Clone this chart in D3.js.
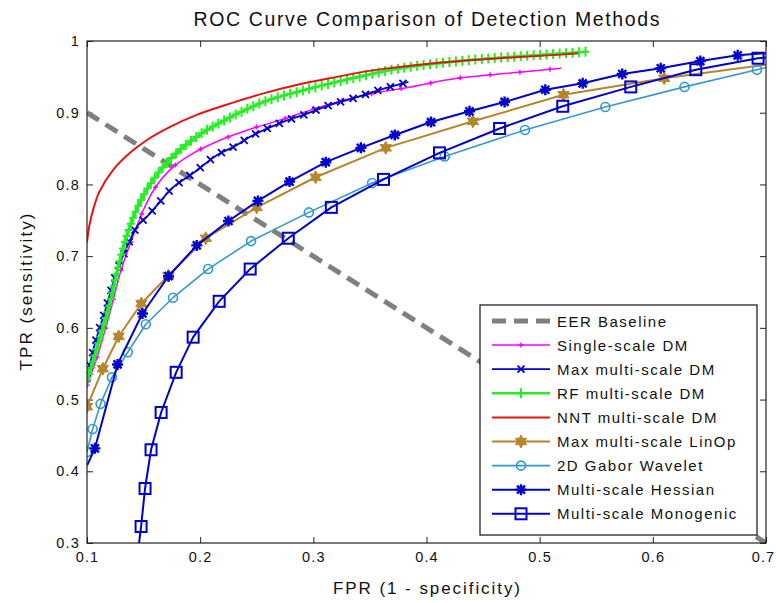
<!DOCTYPE html>
<html>
<head>
<meta charset="utf-8">
<script src="https://cdn.jsdelivr.net/npm/d3@7"></script>
<style>
  body { margin: 0; background: #fff; }
  text { font-family: Arial, "Liberation Sans", sans-serif; fill: #111; }
</style>
</head>
<body>
<svg id="chart" width="776" height="603"></svg>
<script>
// ---- data ----
const xTicks = [0.1, 0.2, 0.3, 0.4, 0.5, 0.6, 0.7];
const yTicks = [0.3, 0.4, 0.5, 0.6, 0.7, 0.8, 0.9, 1];

const seriesNames = ['EER Baseline', 'Single-scale DM', 'Max multi-scale DM', 'RF multi-scale DM',
  'NNT multi-scale DM', 'Max multi-scale LinOp', '2D Gabor Wavelet', 'Multi-scale Hessian', 'Multi-scale Monogenic'];

const eerX = [0.1, 0.7];
const eerY = [0.9, 0.3];

const singleX = [0.1, 0.11, 0.12, 0.13, 0.14, 0.15, 0.16, 0.173, 0.191, 0.218, 0.242, 0.271, 0.300, 0.321, 0.35, 0.386, 0.427, 0.472, 0.519];
const singleY = [0.52, 0.565, 0.62, 0.68, 0.725, 0.765, 0.795, 0.82, 0.841, 0.862, 0.876, 0.890, 0.905, 0.915, 0.926, 0.936, 0.948, 0.955, 0.962];

const maxDmX = [0.1, 0.107, 0.116, 0.126, 0.135, 0.145, 0.153, 0.163, 0.176, 0.194, 0.215, 0.229, 0.247, 0.273, 0.295, 0.315, 0.335, 0.359, 0.384];
const maxDmY = [0.53, 0.578, 0.624, 0.677, 0.712, 0.743, 0.755, 0.773, 0.796, 0.816, 0.841, 0.852, 0.869, 0.887, 0.899, 0.911, 0.920, 0.932, 0.943];

const rfX = [0.1, 0.109, 0.119, 0.129, 0.138, 0.15, 0.165, 0.182, 0.203, 0.227, 0.256, 0.286, 0.321, 0.377, 0.436, 0.495, 0.542];
const rfY = [0.527, 0.573, 0.628, 0.694, 0.742, 0.785, 0.820, 0.848, 0.873, 0.894, 0.915, 0.929, 0.943, 0.962, 0.973, 0.980, 0.985];

const nntX = [0.1, 0.102, 0.106, 0.111, 0.123, 0.138, 0.153, 0.173, 0.197, 0.227, 0.256, 0.286, 0.321, 0.348, 0.406, 0.465, 0.519, 0.534];
const nntY = [0.719, 0.742, 0.768, 0.790, 0.820, 0.844, 0.862, 0.880, 0.897, 0.913, 0.927, 0.939, 0.950, 0.958, 0.969, 0.976, 0.981, 0.983];

const linopX = [0.1, 0.114, 0.128, 0.148, 0.172, 0.205, 0.250, 0.302, 0.364, 0.441, 0.521, 0.610, 0.7];
const linopY = [0.49, 0.543, 0.588, 0.634, 0.673, 0.725, 0.768, 0.810, 0.851, 0.888, 0.925, 0.948, 0.967];

const gaborX = [0.1, 0.105, 0.112, 0.122, 0.136, 0.152, 0.176, 0.207, 0.245, 0.296, 0.352, 0.416, 0.487, 0.558, 0.628, 0.692, 0.7];
const gaborY = [0.427, 0.459, 0.494, 0.531, 0.566, 0.605, 0.642, 0.682, 0.721, 0.761, 0.802, 0.839, 0.876, 0.908, 0.936, 0.960, 0.963];

const hessX = [0.1, 0.107, 0.127, 0.149, 0.172, 0.197, 0.225, 0.251, 0.279, 0.311, 0.342, 0.372, 0.404, 0.438, 0.469, 0.505, 0.538, 0.573, 0.607, 0.642, 0.675, 0.7];
const hessY = [0.408, 0.432, 0.549, 0.620, 0.672, 0.715, 0.749, 0.777, 0.804, 0.831, 0.851, 0.869, 0.887, 0.902, 0.915, 0.932, 0.941, 0.954, 0.962, 0.972, 0.980, 0.983];

const monoX = [0.146, 0.1478, 0.1513, 0.1566, 0.1655, 0.1788, 0.1938, 0.2168, 0.2442, 0.2779, 0.3159, 0.362, 0.4115, 0.4646, 0.5204, 0.5805, 0.638, 0.693, 0.7];
const monoY = [0.3, 0.323, 0.376, 0.430, 0.482, 0.538, 0.587, 0.637, 0.682, 0.725, 0.768, 0.807, 0.844, 0.878, 0.909, 0.936, 0.960, 0.976, 0.977];

const zip = (xs, ys) => xs.map((v, i) => [v, ys[i]]);

// style per series; 'step' = marker spacing along path (dense curves)
const series = [
  { name: seriesNames[1], pts: zip(singleX, singleY), color: '#ff00ff', width: 1.5, marker: 'dot', step: 30, smooth: true },
  { name: seriesNames[2], pts: zip(maxDmX, maxDmY), color: '#0000cc', width: 1.8, marker: 'x', step: 13, smooth: true },
  { name: seriesNames[3], pts: zip(rfX, rfY), color: '#22ee22', width: 2.5, marker: 'plus', step: 6.5, smooth: true },
  { name: seriesNames[4], pts: zip(nntX, nntY), color: '#e81212', width: 2, marker: null, smooth: true },
  { name: seriesNames[5], pts: zip(linopX, linopY), color: '#b5862a', width: 2, marker: 'hexagram', skip: [12] },
  { name: seriesNames[6], pts: zip(gaborX, gaborY), color: '#3399cc', width: 1.6, marker: 'circle', skip: [16] },
  { name: seriesNames[7], pts: zip(hessX, hessY), color: '#0000cc', width: 2, marker: 'asterisk', skip: [0, 21] },
  { name: seriesNames[8], pts: zip(monoX, monoY), color: '#0000cc', width: 2, marker: 'square', skip: [0, 18] }
];

const svg = d3.select('#chart');
const pLeft = 87, pRight = 766, pTop = 41, pBottom = 543;
const x = d3.scaleLinear().domain([0.1, 0.7]).range([pLeft, pRight]);
const y = d3.scaleLinear().domain([0.3, 1]).range([pBottom, pTop]);

svg.append('defs').append('clipPath').attr('id', 'plotclip')
  .append('rect').attr('x', pLeft).attr('y', pTop).attr('width', pRight - pLeft).attr('height', pBottom - pTop);

// title and axis labels
svg.append('text').attr('x', (pLeft + pRight) / 2).attr('y', 26).attr('text-anchor', 'middle')
  .attr('font-size', 19.5).attr('textLength', 466).attr('lengthAdjust', 'spacing')
  .text('ROC Curve Comparison of Detection Methods');
svg.append('text').attr('x', (pLeft + pRight) / 2).attr('y', 594).attr('text-anchor', 'middle')
  .attr('font-size', 17).attr('textLength', 187).attr('lengthAdjust', 'spacing')
  .text('FPR (1 - specificity)');
svg.append('text').attr('transform', `translate(32,${(pTop + pBottom) / 2}) rotate(-90)`).attr('text-anchor', 'middle')
  .attr('font-size', 17).attr('textLength', 157).attr('lengthAdjust', 'spacing')
  .text('TPR (sensitivity)');

// axes, ticks inward
const fmt = d3.format('~g');
const axisStyle = sel => {
  sel.select('.domain').remove();
  sel.selectAll('line').attr('stroke', '#222');
  sel.selectAll('text').attr('font-size', 14.5).attr('font-family', 'Arial, "Liberation Sans", sans-serif')
    .attr('letter-spacing', 1.2).attr('fill', '#111');
};
const xAxisG = svg.append('g').attr('transform', `translate(0,${pBottom})`)
  .call(d3.axisBottom(x).tickValues(xTicks).tickFormat(fmt).tickSizeInner(-6).tickSizeOuter(0).tickPadding(9)).call(axisStyle);
// keep the last label inside the window
xAxisG.selectAll('text').filter(d => d === xTicks[xTicks.length - 1]).attr('dx', -3);
svg.append('g').attr('transform', `translate(0,${pTop})`)
  .call(d3.axisTop(x).tickValues(xTicks).tickFormat('').tickSizeInner(-6).tickSizeOuter(0)).call(axisStyle);
svg.append('g').attr('transform', `translate(${pLeft},0)`)
  .call(d3.axisLeft(y).tickValues(yTicks).tickFormat(fmt).tickSizeInner(-6).tickSizeOuter(0).tickPadding(7)).call(axisStyle);
svg.append('g').attr('transform', `translate(${pRight},0)`)
  .call(d3.axisRight(y).tickValues(yTicks).tickFormat('').tickSizeInner(-6).tickSizeOuter(0)).call(axisStyle);

const plot = svg.append('g').attr('clip-path', 'url(#plotclip)');

// EER baseline
plot.append('path').datum(zip(eerX, eerY))
  .attr('d', d3.line().x(d => x(d[0])).y(d => y(d[1])))
  .attr('fill', 'none').attr('stroke', '#808080').attr('stroke-width', 5).attr('stroke-dasharray', '14,8');

function hexagram(r) {
  const p = [];
  for (let i = 0; i < 12; i++) {
    const a = -Math.PI / 2 + i * Math.PI / 6;
    const rr = i % 2 ? r * 0.55 : r;
    p.push([rr * Math.cos(a), rr * Math.sin(a)]);
  }
  return 'M' + p.map(q => q.join(',')).join('L') + 'Z';
}

function drawMarker(g, type, px, py, color) {
  const m = g.append('g').attr('transform', `translate(${px},${py})`);
  if (type === 'plus') {
    m.append('path').attr('d', 'M-4,0H4M0,-5V5').attr('stroke', color).attr('stroke-width', 2).attr('fill', 'none');
  } else if (type === 'dot') {
    m.append('path').attr('d', 'M-2.5,0H2.5M0,-2.5V2.5').attr('stroke', color).attr('stroke-width', 1.5).attr('fill', 'none');
  } else if (type === 'x') {
    m.append('path').attr('d', 'M-3.5,-3.5L3.5,3.5M-3.5,3.5L3.5,-3.5').attr('stroke', color).attr('stroke-width', 1.8).attr('fill', 'none');
  } else if (type === 'circle') {
    m.append('circle').attr('r', 4.5).attr('fill', 'none').attr('stroke', color).attr('stroke-width', 1.6);
  } else if (type === 'square') {
    m.append('rect').attr('x', -5.5).attr('y', -5.5).attr('width', 11).attr('height', 11)
      .attr('fill', 'none').attr('stroke', color).attr('stroke-width', 2);
  } else if (type === 'hexagram') {
    m.append('path').attr('d', hexagram(6.5)).attr('fill', color).attr('stroke', color).attr('stroke-width', 1);
  } else if (type === 'asterisk') {
    m.append('path').attr('d', 'M-5.5,0H5.5M0,-5.5V5.5M-4,-4L4,4M-4,4L4,-4')
      .attr('stroke', color).attr('stroke-width', 2.4).attr('fill', 'none');
  }
}

series.forEach(s => {
  const line = d3.line().x(d => x(d[0])).y(d => y(d[1]))
    .curve(s.smooth ? d3.curveCatmullRom.alpha(0.5) : d3.curveLinear);
  const path = plot.append('path').datum(s.pts).attr('d', line)
    .attr('fill', 'none').attr('stroke', s.color).attr('stroke-width', s.width).attr('stroke-linejoin', 'round');
  if (!s.marker) return;
  if (s.step) {
    const node = path.node();
    const len = node.getTotalLength();
    for (let d = 0; d <= len + 0.1; d += s.step) {
      const p = node.getPointAtLength(Math.min(d, len));
      drawMarker(plot, s.marker, p.x, p.y, s.color);
    }
  } else {
    s.pts.forEach((d, i) => {
      if (s.skip && s.skip.includes(i)) return;
      drawMarker(plot, s.marker, x(d[0]), y(d[1]), s.color);
    });
  }
});

// plot frame
svg.append('rect').attr('x', pLeft).attr('y', pTop).attr('width', pRight - pLeft).attr('height', pBottom - pTop)
  .attr('fill', 'none').attr('stroke', '#222').attr('stroke-width', 1.2);

// legend
const lg = svg.append('g');
lg.append('rect').attr('x', 480).attr('y', 305).attr('width', 277).attr('height', 230)
  .attr('fill', '#fff').attr('stroke', '#111').attr('stroke-width', 1.2);
const legendItems = [{ name: seriesNames[0], color: '#808080', width: 5, dash: '14,8', marker: null }].concat(series);
legendItems.forEach((s, i) => {
  const cy = 321 + i * 24.1;
  lg.append('line').attr('x1', 492).attr('x2', 550).attr('y1', cy).attr('y2', cy)
    .attr('stroke', s.color).attr('stroke-width', s.width).attr('stroke-dasharray', s.dash || null);
  if (s.marker) drawMarker(lg, s.marker, 521, cy, s.color);
  lg.append('text').attr('x', 557).attr('y', cy + 5.5).attr('font-size', 15).attr('letter-spacing', 1.5).text(s.name);
});
</script>
</body>
</html>
